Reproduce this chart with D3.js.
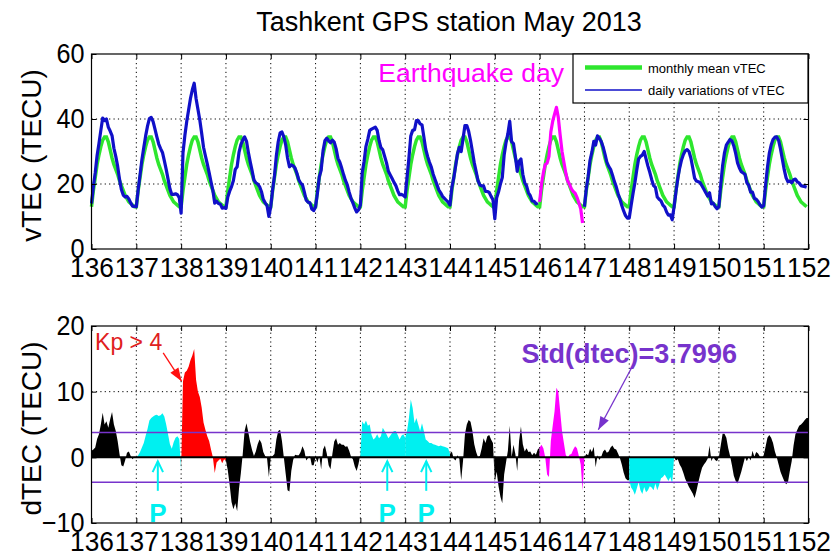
<!DOCTYPE html>
<html>
<head>
<meta charset="utf-8">
<script src="https://cdn.jsdelivr.net/npm/d3@7"></script>
<style>
  body { margin: 0; background: #fff; }
  svg { font-family: "Liberation Sans", Arial, Helvetica, sans-serif; }
  /* MATLAB-ish narrow, tall tick labels */
  .xt text { font-size: 28px; transform-box: fill-box; transform-origin: center; transform: scaleX(0.94); }
  .yt text { font-size: 28px; transform-box: fill-box; transform-origin: right center; transform: scaleX(0.9); }
</style>
</head>
<body>
<script>
// Day of year (May 2013), one entry per day
const days = [136, 137, 138, 139, 140, 141, 142, 143, 144, 145, 146, 147, 148, 149, 150, 151]
// what each day is marked as in the dTEC panel
const dayType = ['quiet', 'P', 'Kp', 'quiet', 'quiet', 'quiet', 'P', 'P', 'quiet', 'quiet', 'EQ', 'quiet', 'P', 'quiet', 'quiet', 'quiet']
const xTickDays = [136, 137, 138, 139, 140, 141, 142, 143, 144, 145, 146, 147, 148, 149, 150, 151, 152]
const vtecTicks = [0, 20, 40, 60]
const dtecTicks = [-10, 0, 10, 20]

// monthly mean vTEC, hourly (UT 0..23), same curve every day
const meanVtec = [13, 18, 22, 26, 29, 31.5, 33.5, 34.5, 34.5, 33, 30.5, 28, 26, 24.5, 23, 21, 19.5, 18, 16.5, 15.5, 14.5, 14, 13.5, 13]

// dTEC, hourly, one row per day
const dtec = [
    [1.0, 1.2, 1.5, 2.8, 3.5, 5.0, 6.8, 5.0, 5.5, 4.5, 5.8, 6.9, 5.0, 4.0, 2.5, 0.5, -1.2, -1.4, -0.5, 0.7, 0.9, 0.2, -0.3, 0.1], // 136
    [0.0, 0.3, 0.8, 1.5, 2.2, 3.3, 4.3, 5.6, 6.0, 6.2, 6.4, 6.5, 6.3, 6.4, 6.7, 6.2, 5.0, 3.5, 2.0, 1.3, 2.3, 3.0, 3.2, 2.8], // 137
    [-2.0, 11.6, 12.9, 13.2, 13.8, 14.8, 15.5, 16.5, 11.8, 10.0, 9.2, 7.6, 5.3, 4.2, 3.2, 2.5, 1.2, 0.0, -2.4, -0.8, -0.5, -0.2, -0.9, -0.3], // 138
    [-0.5, -2.0, -4.2, -6.8, -7.9, -7.0, -8.2, -4.8, -2.4, 0.5, 4.0, 5.2, 3.8, 2.3, 1.1, 0.2, 0.9, 2.0, 2.7, 2.2, 0.8, 0.2, -0.1, -3.0], // 139
    [0.0, 0.2, 0.5, 2.7, 4.0, 4.2, 2.5, 0.0, -2.5, -5.0, -5.2, -2.1, -0.4, 0.4, 0.3, 0.3, 0.8, 1.7, 1.0, -0.5, -0.1, 0.2, -1.2, -1.2], // 140
    [0.0, -0.8, 0.2, -1.8, 1.2, 1.8, 0.6, -1.2, -1.8, 0.5, 2.4, 2.9, 1.9, 2.2, 1.9, 1.9, 1.6, 1.7, 1.0, 0.1, -0.3, -1.4, -2.1, -1.0], // 141
    [0.5, 5.5, 5.0, 5.6, 4.8, 5.0, 3.4, 2.7, 3.0, 3.5, 2.9, 3.2, 4.5, 4.0, 3.5, 2.9, 3.3, 3.7, 4.0, 4.0, 3.4, 2.7, 3.3, 3.5], // 142
    [3.0, 4.0, 6.0, 8.8, 7.5, 5.2, 6.0, 5.0, 4.0, 5.2, 4.0, 2.7, 2.5, 2.2, 2.2, 2.0, 1.9, 1.8, 1.7, 1.8, 1.7, 1.6, 1.5, 1.4], // 143
    [0.5, 0.9, -0.2, -0.5, 0.3, -0.2, -3.5, -0.5, 3.5, 5.0, 5.7, 5.4, 4.0, 2.0, 0.8, 0.0, 0.2, 1.4, 2.9, 2.2, 3.2, 3.4, 2.7, 2.2], // 144
    [-3.7, -2.2, -4.4, -6.0, -7.0, -2.6, -0.8, 1.0, 4.8, 0.0, 1.9, 0.5, -2.1, 2.5, 4.7, 2.0, 0.9, 1.4, 0.8, 0.9, 0.3, 0.7, 0.4, 1.2], // 145
    [1.5, 1.9, 1.4, 0.0, -2.6, -3.0, 2.5, 4.8, 7.0, 10.6, 10.0, 7.0, 4.0, 2.2, 0.4, -0.1, 0.4, 0.5, 1.2, 1.7, 1.4, 0.2, -1.1, -5.0], // 146
    [0.0, 0.5, 0.3, 1.3, 0.8, 1.6, -1.5, 0.3, -0.4, 0.1, 0.9, 1.2, 0.7, 0.9, 1.5, 1.8, 1.3, 1.2, 0.6, -0.1, -1.1, -2.3, -3.2, -3.5], // 147
    [-3.5, -4.6, -5.0, -5.7, -4.8, -3.8, -5.0, -5.6, -4.5, -5.3, -5.0, -4.4, -4.6, -5.0, -4.0, -5.0, -4.2, -3.2, -3.0, -2.6, -3.1, -3.6, -3.0, -4.0], // 148
    [0.0, -0.5, -0.3, -1.1, -1.6, -2.4, -3.3, -3.9, -4.5, -5.0, -5.5, -6.2, -5.1, -3.8, -2.6, -1.6, -1.1, -0.7, -0.2, 1.8, -0.6, 0.1, -0.4, -0.6], // 149
    [0.0, 1.8, 3.6, 3.6, 3.0, 1.4, 0.2, -1.2, -2.8, -3.6, -4.0, -3.1, -2.2, -1.1, 0.0, -0.6, 0.1, -0.5, 1.0, 0.1, 0.8, 0.6, 0.1, -0.1], // 150
    [0.3, 1.6, 3.0, 3.4, 3.0, 2.2, 0.9, 0.0, -1.1, -2.2, -2.9, -3.6, -4.1, -3.8, -2.1, -0.6, 1.8, 3.5, 4.2, 4.8, 5.0, 5.3, 5.7, 6.0]  // 151
]
const stdDtec = 3.7996
const pDays = [137.48, 142.6, 143.47] // where the P arrows point

const typeColor = { quiet: '#000000', P: '#00f0f0', Kp: '#ff0000', EQ: '#ff00ff' }
const purple = '#7733cc'

const svg = d3.select('body').append('svg')
    .attr('width', 832)
    .attr('height', 557)

const x = d3.scaleLinear().domain([136, 152]).range([91.5, 808.5])
const yTop = d3.scaleLinear().domain([0, 60]).range([249, 54])
const yBot = d3.scaleLinear().domain([-10, 20]).range([523, 326])

// hourly points, vTEC = monthly mean + dTEC
const pts = days.flatMap((d, i) => meanVtec.map((m, h) => ({
    t: d + h / 24, mean: m, vtec: m + dtec[i][h], eq: dayType[i] === 'EQ'
})))

function grid(y, gridVals) {
    const g = svg.append('g').attr('stroke', '#000').attr('stroke-width', 1).attr('stroke-dasharray', '1.2,3.2')
    g.selectAll('.v').data(xTickDays.slice(1, -1)).enter().append('line')
        .attr('x1', d => x(d)).attr('x2', d => x(d))
        .attr('y1', y.range()[0]).attr('y2', y.range()[1])
    g.selectAll('.h').data(gridVals).enter().append('line')
        .attr('x1', x.range()[0]).attr('x2', x.range()[1])
        .attr('y1', d => y(d)).attr('y2', d => y(d))
}

function frame(y, yTicks) {
    const y0 = y.range()[0], y1 = y.range()[1]
    svg.append('g').attr('class', 'xt').attr('transform', `translate(0,${y0})`)
        .call(d3.axisBottom(x).tickValues(xTickDays).tickFormat(d3.format('d')).tickSize(-5).tickPadding(8))
        .attr('font-family', null)
        .call(g => g.select('.domain').remove())
    svg.append('g').attr('transform', `translate(0,${y1})`)
        .call(d3.axisTop(x).tickValues(xTickDays).tickFormat('').tickSize(-5))
        .call(g => g.select('.domain').remove())
    svg.append('g').attr('class', 'yt').attr('transform', `translate(${x.range()[0]},0)`)
        .call(d3.axisLeft(y).tickValues(yTicks).tickSize(-5).tickPadding(7))
        .attr('font-family', null)
        .call(g => g.select('.domain').remove())
    svg.append('g').attr('transform', `translate(${x.range()[1]},0)`)
        .call(d3.axisRight(y).tickValues(yTicks).tickFormat('').tickSize(-5))
        .call(g => g.select('.domain').remove())
    svg.append('rect')
        .attr('x', x.range()[0]).attr('y', y1)
        .attr('width', x.range()[1] - x.range()[0]).attr('height', y0 - y1)
        .attr('fill', 'none').attr('stroke', '#000').attr('stroke-width', 1.2)
}

// Title
svg.append('text')
    .attr('x', 449).attr('y', 31)
    .attr('text-anchor', 'middle')
    .style('font-size', '27px')
    .text('Tashkent GPS station May 2013')

// ---------- top panel: vTEC ----------
grid(yTop, [20, 40])

svg.append('path').datum(pts)
    .attr('fill', 'none').attr('stroke', '#2ee62e').attr('stroke-width', 3.5)
    .attr('d', d3.line().x(p => x(p.t)).y(p => yTop(p.mean)))

svg.append('path').datum(pts)
    .attr('fill', 'none').attr('stroke', '#1010c8').attr('stroke-width', 3.2).attr('stroke-linejoin', 'round')
    .attr('d', d3.line().defined(p => !p.eq).x(p => x(p.t)).y(p => yTop(p.vtec)))

svg.append('path').datum(pts.filter(p => p.eq))
    .attr('fill', 'none').attr('stroke', '#ff00ff').attr('stroke-width', 3.2).attr('stroke-linejoin', 'round')
    .attr('d', d3.line().x(p => x(p.t)).y(p => yTop(p.vtec)))

frame(yTop, vtecTicks)

svg.append('text')
    .attr('x', x(142.4)).attr('y', yTop(51.4))
    .attr('fill', '#ff00ff')
    .style('font-size', '26.5px')
    .text('Earthquake day')

// legend
const leg = svg.append('g')
leg.append('rect').attr('x', 573).attr('y', 54).attr('width', 235).attr('height', 49)
    .attr('fill', '#fff').attr('stroke', '#000').attr('stroke-width', 1.2)
leg.append('line').attr('x1', 585).attr('x2', 642).attr('y1', 67.5).attr('y2', 67.5)
    .attr('stroke', '#2ee62e').attr('stroke-width', 4.5)
leg.append('line').attr('x1', 585).attr('x2', 642).attr('y1', 90).attr('y2', 90)
    .attr('stroke', '#1010c8').attr('stroke-width', 1.5)
leg.append('text').attr('x', 648).attr('y', 73).style('font-size', '13px').text('monthly mean vTEC')
leg.append('text').attr('x', 648).attr('y', 95).style('font-size', '13px').text('daily variations of vTEC')

svg.append('text')
    .attr('transform', `translate(41,${(yTop.range()[0] + yTop.range()[1]) / 2 + 4}) rotate(-90)`)
    .attr('text-anchor', 'middle')
    .style('font-size', '28px')
    .text('vTEC (TECU)')

// ---------- bottom panel: dTEC ----------
grid(yBot, [10])

const area = d3.area().x(p => x(p.t)).y0(yBot(0)).y1(p => yBot(p.v))
days.forEach((d, i) => {
    const dayPts = dtec[i].map((v, h) => ({ t: d + h / 24, v: v }))
    const nextV = i < days.length - 1 ? dtec[i + 1][0] : dtec[i][23]
    dayPts.push({ t: d + 1, v: nextV })
    svg.append('path').datum(dayPts)
        .attr('fill', typeColor[dayType[i]])
        .attr('d', area)
})

svg.append('line')
    .attr('x1', x.range()[0]).attr('x2', x.range()[1])
    .attr('y1', yBot(0)).attr('y2', yBot(0))
    .attr('stroke', '#000').attr('stroke-width', 2)

svg.selectAll('.stdline').data([stdDtec, -stdDtec]).enter().append('line')
    .attr('x1', x.range()[0]).attr('x2', x.range()[1])
    .attr('y1', d => yBot(d)).attr('y2', d => yBot(d))
    .attr('stroke', purple).attr('stroke-width', 1.5)

frame(yBot, dtecTicks)

svg.append('text')
    .attr('transform', `translate(41,${(yBot.range()[0] + yBot.range()[1]) / 2 + 4}) rotate(-90)`)
    .attr('text-anchor', 'middle')
    .style('font-size', '28px')
    .text('dTEC (TECU)')

// arrow helper: line from a to b with head at b
function arrow(ax, ay, bx, by, color, filled) {
    const ang = Math.atan2(by - ay, bx - ax)
    const L = filled ? 14 : 12, w = filled ? 0.35 : 0.45
    const h1 = [bx - L * Math.cos(ang - w), by - L * Math.sin(ang - w)]
    const h2 = [bx - L * Math.cos(ang + w), by - L * Math.sin(ang + w)]
    svg.append('line').attr('x1', ax).attr('y1', ay).attr('x2', bx).attr('y2', by)
        .attr('stroke', color).attr('stroke-width', filled ? 1.3 : 2)
    if (filled) {
        svg.append('path').attr('d', `M${bx},${by}L${h1}L${h2}Z`).attr('fill', color)
    } else {
        svg.append('path').attr('d', `M${h1}L${bx},${by}L${h2}`)
            .attr('fill', 'none').attr('stroke', color).attr('stroke-width', 2)
    }
}

svg.append('text')
    .attr('x', x(136.08)).attr('y', yBot(16.3))
    .attr('fill', '#e02020')
    .style('font-size', '23px')
    .text('Kp > 4')
arrow(x(137.6), yBot(15.9), x(138.01), yBot(11.6), '#ff1010', true)

svg.append('text')
    .attr('x', x(148.0)).attr('y', yBot(14.4))
    .attr('text-anchor', 'middle')
    .attr('fill', purple)
    .style('font-size', '27px').style('font-weight', 'bold')
    .text('Std(dtec)=' + stdDtec)
arrow(x(148.05), yBot(13.6), x(147.31), yBot(4.2), purple, true)

pDays.forEach(d => {
    arrow(x(d), yBot(-5.1), x(d), yBot(-0.6), '#00f0f0', false)
    svg.append('text')
        .attr('x', x(d)).attr('y', yBot(-9.9))
        .attr('text-anchor', 'middle')
        .attr('fill', '#00f0f0')
        .style('font-size', '26px').style('font-weight', 'bold')
        .text('P')
})
</script>
</body>
</html>
